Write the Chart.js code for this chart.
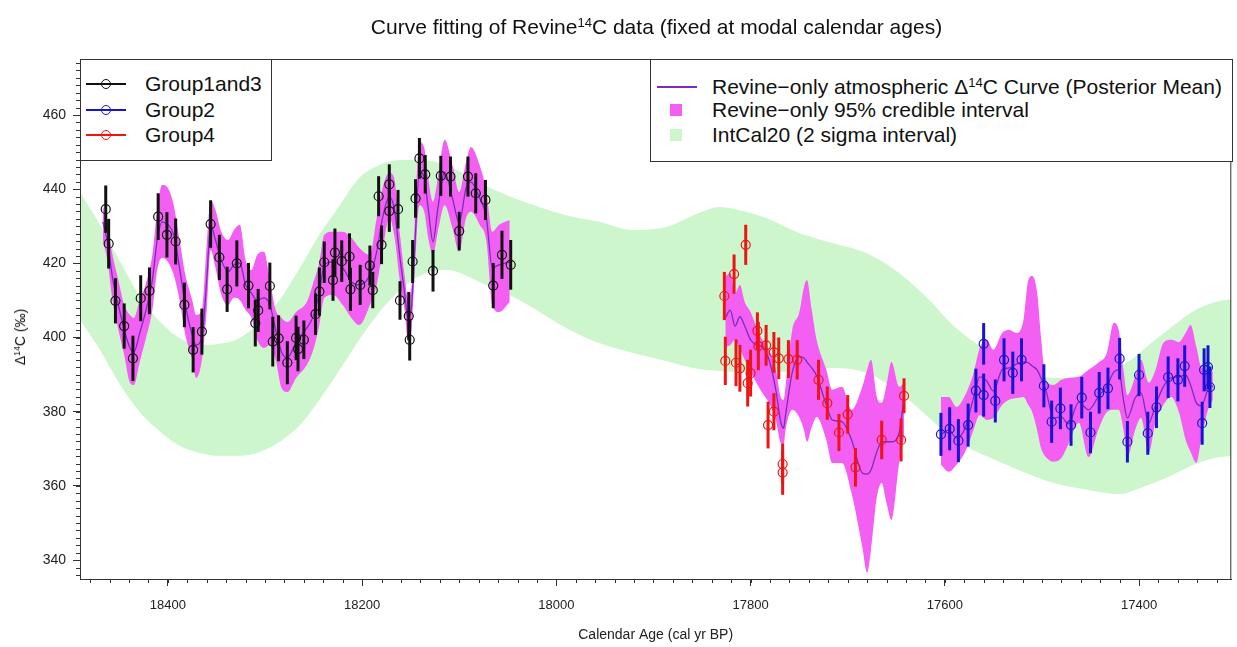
<!DOCTYPE html>
<html>
<head>
<meta charset="utf-8">
<title>Curve fitting of Revine 14C data</title>
<script src="https://cdn.jsdelivr.net/npm/chart.js@4.4.1/dist/chart.umd.min.js"></script>
<style>
  body { margin: 0; background: #fff; font-family: "Liberation Sans", Arial, Helvetica, sans-serif; color: #111; }
  #wrap { position: relative; width: 1237px; height: 647px; overflow: hidden; }
  #chart { position: absolute; left: 0; top: 0; }
  .abs { position: absolute; white-space: nowrap; }
  sup { font-size: 0.62em; line-height: 0; vertical-align: 0.55em; }
  .box { position: absolute; border: 1px solid #333; background: #fff; box-sizing: border-box; }
  .txt { position: absolute; white-space: nowrap; font-size: 21px; line-height: 24px; }
</style>
</head>
<body>
<div id="wrap">
  <canvas id="chart" width="1237" height="647"></canvas>
  <div class="abs" id="title" style="left:80px; width:1153px; top:15px; text-align:center; font-size:21px; line-height:24px;">Curve fitting of Revine<sup>14</sup>C data (fixed at modal calendar ages)</div>
  <div class="abs" id="ytitle" style="left:20px; top:337px; font-size:14px; transform:translate(-50%,-50%) rotate(-90deg);">&Delta;<sup>14</sup>C (&permil;)</div>
</div>
<script>
// axis ticks
const xTickVals = [18400, 18200, 18000, 17800, 17600, 17400];
const yTickVals = [340, 360, 380, 400, 420, 440, 460];

// Group1and3 (black)
const g13Age = [18464, 18461, 18454, 18445, 18436, 18428, 18419, 18410, 18401, 18392, 18383, 18374, 18365, 18356, 18347, 18339, 18329, 18317, 18310, 18307, 18295, 18292, 18286, 18277, 18268, 18266, 18260, 18248, 18244, 18239, 18230, 18228, 18221, 18213, 18212, 18202, 18192, 18189, 18183, 18180, 18172, 18172, 18163, 18161, 18152, 18151, 18148, 18145, 18141, 18135, 18127, 18119, 18109, 18100, 18091, 18083, 18073, 18065, 18056, 18047];
const g13Val = [434.6, 425.3, 409.9, 403.1, 394.4, 410.6, 412.6, 432.6, 427.7, 425.9, 408.8, 396.7, 401.6, 430.6, 421.6, 413.0, 420.0, 414.0, 403.9, 407.3, 413.9, 398.9, 399.8, 393.2, 399.9, 396.9, 399.4, 406.3, 412.4, 420.3, 415.5, 422.9, 420.6, 421.8, 413.0, 414.2, 419.4, 412.8, 438.1, 425.0, 441.3, 434.1, 434.6, 410.0, 405.8, 399.4, 420.5, 437.5, 448.3, 444.0, 418.0, 443.6, 443.4, 428.7, 443.4, 438.9, 437.1, 414.0, 422.3, 419.6];
const g13Err = [6.4, 6.7, 6.1, 6.1, 6.1, 6.2, 6.3, 6.3, 6.1, 6.2, 6.0, 6.1, 6.2, 6.4, 6.1, 6.1, 6.2, 6.1, 6.3, 5.8, 6.3, 6.7, 6.2, 5.8, 6.0, 6.0, 5.2, 5.6, 6.5, 5.6, 5.6, 6.5, 5.6, 6.3, 5.8, 5.4, 5.4, 4.9, 5.4, 5.2, 5.4, 5.6, 5.2, 5.2, 6.5, 5.6, 5.8, 5.2, 5.5, 5.2, 5.6, 5.4, 5.4, 5.2, 5.4, 5.4, 5.4, 6.1, 6.5, 6.7];

// Group2 (blue)
const g2Age = [17604, 17595, 17586, 17576, 17568, 17560, 17560, 17548, 17539, 17530, 17521, 17498, 17490, 17481, 17470, 17459, 17450, 17441, 17432, 17420, 17412, 17400, 17391, 17382, 17370, 17360, 17353, 17335, 17333, 17329, 17327];
const g2Val = [373.9, 375.4, 372.2, 376.4, 385.7, 398.3, 384.5, 382.9, 394.0, 390.5, 394.0, 387.0, 377.3, 380.9, 376.4, 383.8, 374.4, 385.1, 386.3, 394.3, 371.9, 389.9, 374.2, 381.2, 389.3, 388.6, 392.3, 376.9, 391.3, 392.0, 386.6];
const g2Err = [5.8, 5.8, 5.8, 5.8, 5.9, 5.6, 5.8, 5.8, 5.8, 5.7, 5.8, 5.8, 5.7, 5.6, 5.6, 5.6, 5.6, 5.6, 5.6, 5.6, 5.6, 5.7, 5.8, 5.6, 5.6, 5.8, 5.6, 5.8, 5.8, 5.9, 5.6];

// Group4 (red)
const g4Age = [17827, 17826, 17817, 17815, 17811, 17805, 17803, 17800, 17793, 17792, 17784, 17782, 17776, 17776, 17771, 17767, 17767, 17761, 17752, 17730, 17721, 17709, 17700, 17692, 17665, 17645, 17642];
const g4Val = [411.2, 393.7, 417.1, 393.2, 391.7, 425.0, 387.7, 390.4, 401.8, 397.7, 397.9, 376.4, 396.0, 380.0, 394.4, 365.9, 363.6, 394.2, 394.0, 388.6, 382.3, 374.4, 379.3, 365.0, 372.4, 372.4, 384.3];
const g4Err = [6.5, 6.5, 5.3, 6.3, 6.3, 5.4, 6.3, 6.3, 5.0, 6.5, 5.5, 6.3, 5.5, 5.0, 5.6, 5.5, 6.0, 5.1, 5.3, 5.4, 4.5, 5.0, 5.2, 5.2, 5.2, 5.8, 4.7];

// Revine-only curve, segment 1
const band1Age = [18467, 18462, 18457, 18451, 18445, 18439, 18435, 18429, 18423, 18416, 18411, 18406, 18400, 18394, 18388, 18382, 18375, 18371, 18365, 18360, 18356, 18351, 18345, 18338, 18332, 18326, 18320, 18314, 18308, 18301, 18295, 18289, 18283, 18277, 18268, 18257, 18251, 18244, 18239, 18230, 18220, 18211, 18203, 18192, 18185, 18179, 18172, 18167, 18161, 18156, 18153, 18149, 18146, 18141, 18136, 18132, 18127, 18122, 18115, 18107, 18100, 18093, 18088, 18079, 18072, 18066, 18059, 18048];
const band1Hi = [435.7, 430.4, 422.3, 415.5, 408.8, 406.1, 405.3, 410.1, 414.2, 422.3, 434.4, 441.1, 440.3, 435.7, 426.3, 416.9, 410.1, 406.1, 407.4, 425.0, 437.1, 434.4, 428.5, 426.3, 429.0, 430.4, 420.9, 418.2, 422.3, 423.1, 415.5, 407.4, 405.3, 404.2, 406.9, 409.6, 414.2, 420.4, 427.7, 428.5, 428.5, 426.9, 424.2, 422.3, 432.2, 440.3, 444.4, 443.0, 427.7, 416.1, 410.7, 414.2, 430.4, 452.7, 451.1, 443.0, 436.6, 443.0, 453.3, 446.5, 439.2, 447.3, 451.4, 446.5, 439.2, 428.5, 430.4, 431.7];
const band1Lo = [426.3, 420.4, 410.1, 402.1, 395.3, 387.8, 387.2, 393.4, 399.4, 407.4, 418.2, 421.5, 420.4, 416.9, 410.1, 400.7, 394.0, 389.1, 394.0, 407.4, 423.6, 418.8, 411.5, 408.8, 410.7, 410.1, 407.4, 405.3, 399.4, 397.2, 398.0, 394.0, 386.4, 385.3, 389.1, 392.6, 396.1, 403.4, 410.7, 411.5, 408.8, 405.3, 403.4, 408.8, 414.2, 423.1, 432.2, 427.7, 415.0, 406.9, 399.4, 402.6, 416.9, 435.7, 433.9, 426.9, 422.3, 428.5, 435.7, 429.5, 423.1, 432.2, 433.9, 430.4, 425.8, 408.8, 406.9, 409.6];
const band1Mean = [431.2, 425.5, 416.1, 408.8, 402.1, 397.2, 396.1, 401.2, 406.9, 415.5, 426.3, 431.2, 430.4, 427.7, 418.8, 408.8, 400.7, 398.0, 399.9, 415.5, 430.4, 426.3, 420.9, 417.7, 419.6, 420.1, 414.2, 412.0, 410.1, 410.7, 408.8, 402.1, 396.1, 394.5, 398.8, 402.6, 405.3, 412.3, 419.6, 420.4, 418.8, 415.0, 414.2, 416.9, 423.1, 432.2, 437.9, 434.9, 421.5, 411.5, 405.3, 408.8, 423.1, 444.6, 443.0, 434.9, 425.8, 434.9, 444.6, 437.6, 431.0, 440.3, 441.9, 437.6, 432.2, 418.8, 419.6, 420.4];

// segment 2
const band2Age = [17826, 17821, 17816, 17811, 17806, 17800, 17794, 17788, 17781, 17774, 17769, 17766, 17764, 17757, 17750, 17745, 17742, 17737, 17732, 17722, 17716, 17706, 17696, 17685, 17680, 17676, 17670, 17665, 17660, 17655, 17647, 17642];
const band2Hi = [416.4, 417.4, 412.0, 414.2, 409.6, 406.9, 402.9, 399.4, 396.7, 391.3, 384.0, 383.2, 386.7, 402.1, 406.6, 413.6, 415.5, 407.4, 399.4, 391.3, 385.9, 386.7, 380.5, 386.7, 391.3, 394.0, 384.0, 382.4, 387.2, 393.4, 386.7, 387.8];
const band2Lo = [397.5, 398.0, 399.4, 396.7, 394.0, 390.7, 387.8, 385.1, 382.4, 377.8, 371.6, 371.1, 375.1, 380.5, 378.6, 375.1, 371.9, 375.9, 378.6, 372.4, 366.2, 366.2, 358.1, 343.6, 336.6, 342.8, 357.0, 360.8, 355.4, 350.8, 366.2, 373.2];
const band2Mean = [405.3, 407.4, 403.1, 405.6, 403.1, 399.4, 398.0, 397.5, 394.0, 385.9, 377.3, 375.6, 379.1, 390.7, 394.8, 394.5, 393.4, 391.8, 389.7, 381.8, 377.8, 377.3, 372.4, 363.5, 363.2, 364.3, 369.2, 371.9, 371.9, 371.9, 374.3, 384.0];

// segment 3
const band3Age = [17604, 17596, 17588, 17579, 17571, 17564, 17557, 17550, 17541, 17534, 17526, 17519, 17514, 17510, 17505, 17501, 17496, 17488, 17480, 17473, 17462, 17452, 17442, 17433, 17426, 17421, 17416, 17412, 17404, 17398, 17390, 17383, 17375, 17367, 17359, 17352, 17347, 17341, 17336, 17329, 17324];
const band3Hi = [384.0, 384.0, 381.3, 384.5, 389.9, 397.2, 399.4, 396.7, 401.2, 402.1, 401.2, 404.7, 415.5, 416.6, 412.3, 400.2, 388.6, 387.2, 388.6, 389.1, 389.4, 391.3, 393.2, 395.9, 403.9, 402.1, 391.3, 384.5, 389.4, 394.0, 387.8, 391.3, 398.5, 399.4, 398.8, 401.2, 403.4, 397.5, 392.1, 391.3, 390.7];
const band3Lo = [365.7, 363.8, 365.7, 369.2, 374.6, 379.1, 377.8, 378.3, 381.8, 383.2, 383.7, 384.0, 381.8, 379.9, 375.1, 370.2, 367.8, 366.5, 367.5, 371.1, 377.0, 367.8, 375.1, 379.9, 380.5, 380.5, 375.1, 367.8, 375.1, 378.3, 368.9, 377.3, 381.8, 384.0, 379.9, 372.4, 369.2, 366.2, 372.4, 380.5, 383.2];
const band3Mean = [373.8, 375.1, 372.9, 375.6, 383.2, 389.4, 388.3, 385.6, 391.3, 391.8, 392.9, 393.4, 393.2, 392.3, 391.3, 389.1, 385.9, 378.3, 378.6, 376.7, 382.6, 380.5, 384.0, 387.0, 390.7, 391.3, 383.2, 378.3, 383.7, 385.1, 377.0, 381.8, 386.7, 389.1, 389.4, 389.9, 387.2, 382.4, 381.6, 385.9, 387.0];

// IntCal20 2 sigma interval
const icAge = [18492, 18470, 18449, 18429, 18408, 18388, 18367, 18347, 18326, 18305, 18285, 18264, 18244, 18223, 18203, 18182, 18161, 18141, 18113, 18079, 18038, 17990, 17956, 17922, 17887, 17853, 17832, 17812, 17784, 17750, 17716, 17681, 17647, 17616, 17592, 17558, 17524, 17488, 17452, 17419, 17404, 17390, 17370, 17342, 17321, 17304];
const icHi = [439.8, 430.4, 420.4, 411.2, 404.2, 399.9, 398.0, 398.3, 399.9, 404.2, 410.1, 418.8, 427.7, 435.7, 443.0, 446.5, 447.9, 447.9, 446.5, 441.7, 437.1, 433.0, 431.2, 429.0, 429.8, 433.6, 435.2, 434.4, 432.2, 428.2, 425.5, 422.8, 417.4, 410.1, 403.4, 396.7, 391.8, 389.1, 389.7, 392.3, 394.8, 398.0, 402.1, 407.4, 409.6, 410.4];
const icLo = [405.3, 396.7, 387.2, 379.9, 374.6, 370.8, 368.9, 368.1, 368.1, 369.2, 371.9, 376.4, 383.2, 391.3, 399.4, 406.9, 412.8, 416.6, 418.2, 415.0, 410.1, 402.6, 398.5, 395.9, 393.7, 391.5, 391.0, 390.7, 390.7, 391.0, 391.8, 390.5, 385.3, 378.3, 372.7, 368.1, 364.3, 360.8, 358.9, 357.8, 358.9, 360.3, 362.4, 365.9, 367.6, 368.1];

const groupNames = ['Group1and3', 'Group2', 'Group4'];
const groupColors = ['#111111', '#1414d2', '#ee1414'];
const GREEN = '#cdf6cd';
const PINK = '#f25ff2';
const PURPLE = '#7a2cc0';
const FONT = '"Liberation Sans", Arial, Helvetica, sans-serif';

Chart.defaults.font.family = FONT;

const pts = (xs, ys) => xs.map((x, i) => ({ x: x, y: ys[i] }));

function band(xs, ys, fill, color) {
    return {
        data: pts(xs, ys),
        borderWidth: 0,
        borderColor: 'rgba(0,0,0,0)',
        backgroundColor: color,
        pointRadius: 0,
        cubicInterpolationMode: 'monotone',
        fill: fill
    };
}

function meanLine(xs, ys) {
    return { data: pts(xs, ys), borderColor: PURPLE, borderWidth: 1.3, pointRadius: 0, cubicInterpolationMode: 'monotone', fill: false, order: 3 };
}

function group(xs, ys, errs, i) {
    return {
        label: groupNames[i],
        data: pts(xs, ys),
        errors: errs,
        barColor: groupColors[i],
        showLine: false,
        pointRadius: 4.5,
        pointBorderWidth: 1.2,
        pointBorderColor: groupColors[i],
        pointBackgroundColor: 'rgba(0,0,0,0)',
        order: 1
    };
}

const datasets = [
    Object.assign(band(icAge, icLo, false, GREEN), { order: 5 }),
    Object.assign(band(icAge, icHi, '-1', GREEN), { order: 5 }),
    Object.assign(band(band1Age, band1Lo, false, PINK), { order: 4 }),
    Object.assign(band(band1Age, band1Hi, '-1', PINK), { order: 4 }),
    Object.assign(band(band2Age, band2Lo, false, PINK), { order: 4 }),
    Object.assign(band(band2Age, band2Hi, '-1', PINK), { order: 4 }),
    Object.assign(band(band3Age, band3Lo, false, PINK), { order: 4 }),
    Object.assign(band(band3Age, band3Hi, '-1', PINK), { order: 4 }),
    meanLine(band1Age, band1Mean),
    meanLine(band2Age, band2Mean),
    meanLine(band3Age, band3Mean),
    group(g13Age, g13Val, g13Err, 0),
    group(g2Age, g2Val, g2Err, 1),
    group(g4Age, g4Val, g4Err, 2)
];

// vertical error bars, drawn just before the circles of each group
const errorBars = {
    id: 'errorBars',
    beforeDatasetDraw(chart, args) {
        const ds = chart.data.datasets[args.index];
        if (!ds.errors) return;
        const ctx = chart.ctx;
        const x = chart.scales.x, y = chart.scales.y;
        ctx.save();
        ctx.strokeStyle = ds.barColor;
        ctx.lineWidth = 3;
        ds.data.forEach((p, i) => {
            const px = x.getPixelForValue(p.x);
            ctx.beginPath();
            ctx.moveTo(px, y.getPixelForValue(p.y - ds.errors[i]));
            ctx.lineTo(px, y.getPixelForValue(p.y + ds.errors[i]));
            ctx.stroke();
        });
        ctx.restore();
    }
};

// box around the plot + minor ticks
const frame = {
    id: 'frame',
    afterDraw(chart) {
        const { ctx, chartArea: a } = chart;
        const x = chart.scales.x, y = chart.scales.y;
        ctx.save();
        ctx.strokeStyle = '#333';
        ctx.lineWidth = 1;
        ctx.strokeRect(a.left + 0.5, a.top + 0.5, a.right - a.left - 1, a.bottom - a.top);
        ctx.beginPath();
        for (let v = 17320; v <= 18480; v += 20) {
            const px = Math.round(x.getPixelForValue(v)) + 0.5;
            ctx.moveTo(px, a.bottom);
            ctx.lineTo(px, a.bottom + 4);
        }
        for (let v = 336; v <= 474; v += 2) {
            const py = Math.round(y.getPixelForValue(v)) + 0.5;
            ctx.moveTo(a.left - 4, py);
            ctx.lineTo(a.left, py);
        }
        ctx.stroke();
        ctx.restore();
    }
};

new Chart(document.getElementById('chart'), {
    type: 'line',
    data: { datasets: datasets },
    options: {
        responsive: false,
        animation: false,
        events: [],
        devicePixelRatio: 1,
        layout: { padding: { top: 59, right: 4, left: 0, bottom: 0 } },
        plugins: {
            legend: { display: false },
            tooltip: { enabled: false }
        },
        scales: {
            x: {
                type: 'linear',
                reverse: true,
                min: 17305,
                max: 18490.5,
                afterBuildTicks: s => { s.ticks = xTickVals.map(v => ({ value: v })); },
                afterFit: s => { s.height = 68; },
                ticks: { callback: v => String(v), color: '#222', font: { size: 13 }, padding: 12, maxRotation: 0, autoSkip: false },
                grid: { drawOnChartArea: false, tickLength: 7, color: '#333' },
                border: { color: '#333' },
                title: { display: true, text: 'Calendar Age (cal yr BP)', color: '#222', font: { size: 14 }, padding: { top: 0, bottom: 3 } }
            },
            y: {
                min: 334.9,
                max: 475.1,
                afterBuildTicks: s => { s.ticks = yTickVals.map(v => ({ value: v })); },
                afterFit: s => { s.width = 80; },
                ticks: { callback: v => String(v), color: '#222', font: { size: 14 }, padding: 7 },
                grid: { drawOnChartArea: false, tickLength: 7, color: '#333' },
                border: { color: '#333' }
            }
        }
    },
    plugins: [errorBars, frame]
});

// legends (drawn as html on top of the plot)
const wrap = document.getElementById('wrap');
function add(cls, style, html) {
    const d = document.createElement('div');
    d.className = cls;
    d.style.cssText = style;
    if (html) d.innerHTML = html;
    wrap.appendChild(d);
    return d;
}

add('box', 'left:80px; top:59px; width:192px; height:102px;');
const rowsL = [84, 110, 135];
groupNames.forEach((name, i) => {
    const cy = rowsL[i];
    add('abs', `left:86px; top:${cy - 1}px; width:40px; height:2px; background:${groupColors[i]};`);
    add('abs', `left:${106 - 5}px; top:${cy - 5}px; width:10px; height:10px; box-sizing:border-box; border:1.6px solid ${groupColors[i]}; border-radius:50%;`);
    add('txt', `left:145px; top:${cy - 12}px;`, name);
});

add('box', 'left:650px; top:59px; width:583px; height:103px;');
add('abs', `left:657px; top:86px; width:40px; height:1.5px; background:${PURPLE};`);
add('txt', 'left:712px; top:75px;', 'Revine&minus;only atmospheric &Delta;<sup>14</sup>C Curve (Posterior Mean)');
add('abs', `left:670px; top:104px; width:12px; height:12px; background:${PINK};`);
add('txt', 'left:712px; top:98px;', 'Revine&minus;only 95% credible interval');
add('abs', `left:670px; top:129px; width:12px; height:12px; background:${GREEN};`);
add('txt', 'left:712px; top:123px;', 'IntCal20 (2 sigma interval)');
</script>
</body>
</html>
